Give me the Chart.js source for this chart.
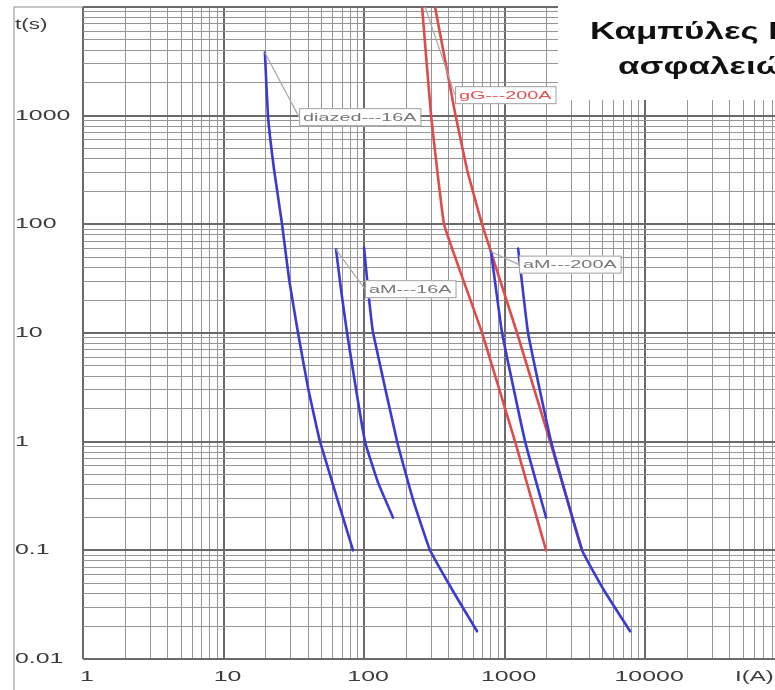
<!DOCTYPE html>
<html><head><meta charset="utf-8">
<script src="https://cdn.jsdelivr.net/npm/chart.js@4"></script>
<style>html,body{margin:0;padding:0;background:#fff}canvas{display:block}</style>
</head><body>
<canvas id="c" width="775" height="690"></canvas>
<script>
// ---- data (current I in A, time t in s) ----
const diazed16_I = [19.7, 20.7, 22.9, 26.1, 29.3, 33.9, 39.9, 48.6, 83.5];
const diazed16_t = [3800, 1000, 318, 100, 31, 10, 3.15, 1, 0.1];

const aM16a_I = [63.2, 68.6, 75.7, 101.6, 125.8, 160.8];
const aM16a_t = [58.5, 25, 10, 1, 0.42, 0.2];

const aM16b_I = [100, 106.8, 116, 172, 223, 295, 430, 637];
const aM16b_t = [61, 25, 10, 1, 0.293, 0.1, 0.042, 0.018];

const aM200a_I = [801, 960, 1400, 1974];
const aM200a_t = [56, 10, 1, 0.2];

const aM200b_I = [1248, 1469, 2143, 3562, 5108, 7820];
const aM200b_t = [60, 10, 1, 0.1, 0.0427, 0.018];

const gG200a_I = [258.7, 300, 371, 507, 692, 1188, 1974];
const gG200a_t = [10000, 1000, 100, 31, 10, 1, 0.1];

const gG200b_I = [320, 444, 541, 692, 1227, 2109, 3562];
const gG200b_t = [10000, 1066, 318, 100, 10, 1, 0.1];

// callouts (labels with leader lines), in data coordinates
const calloutText  = ['diazed---16A', 'gG---200A', 'aM---16A', 'aM---200A'];
const calloutFromI = [19.7, 272, 63.2, 800];
const calloutFromT = [3800, 10000, 58.5, 56];
const calloutToI   = [34.5, 444, 101.6, 1268];
const calloutToT   = [969, 1544, 25.3, 42.6];

// axes
const xTickLabels = ['1', '10', '100', '1000', '10000'];
const yTickLabels = ['0.01', '0.1', '1', '10', '100', '1000'];
const xAxisTitle = 'I(A)';
const yAxisTitle = 't(s)';
const xMin = 1, xMax = 84000, yMin = 0.01, yMax = 10000;
const titleLines = ['Καμπύλες Ι-t', 'ασφαλειών'];

// ---- helpers ----
const pts = (I, t) => I.map((v, i) => ({x: v, y: t[i]}));
function gridValues(min, max) {
  const out = [];
  for (let e = Math.floor(Math.log10(min)); e <= Math.ceil(Math.log10(max)); e++) {
    for (let m = 1; m <= 9; m++) {
      const v = parseFloat((m * Math.pow(10, e)).toPrecision(6));
      if (v >= min * 0.9999 && v <= max * 1.0001) out.push(v);
    }
  }
  return out;
}
const isDecade = v => Math.abs(Math.log10(v) - Math.round(Math.log10(v))) < 1e-6;

const BLUE = '#3a3ad4', RED = '#e24a4a', LEAD = '#a8a8a8';
const curve = (data, color) => ({data, borderColor: color, borderWidth: 2.6, pointRadius: 0,
  tension: 0.1, fill: false, borderJoinStyle: 'round', borderCapStyle: 'round'});
const lead = i => ({data: [{x: calloutFromI[i], y: calloutFromT[i]}, {x: calloutToI[i], y: calloutToT[i]}],
  borderColor: LEAD, borderWidth: 1.2, pointRadius: 0, tension: 0, fill: false});

function stretchText(ctx, text, x, y, sx, align) {
  const w = ctx.measureText(text).width * sx;
  let left = x;
  if (align === 'center') left = x - w / 2; else if (align === 'right') left = x - w;
  ctx.save();
  ctx.translate(left, y); ctx.scale(sx, 1);
  ctx.textAlign = 'left';
  ctx.fillText(text, 0, 0);
  ctx.restore();
  return w;
}

const decor = {
  id: 'decor',
  beforeDraw(chart) {
    const ctx = chart.ctx;
    ctx.save();
    ctx.fillStyle = '#fff';
    ctx.fillRect(0, 0, chart.width, chart.height);
    ctx.strokeStyle = '#b4b4b4'; ctx.lineWidth = 1.5;
    ctx.beginPath();
    ctx.moveTo(83, chart.chartArea.top); ctx.lineTo(14, chart.chartArea.top); ctx.lineTo(14, chart.height);
    ctx.stroke();
    ctx.restore();
  },
  afterDatasetsDraw(chart) {
    const ctx = chart.ctx, xs = chart.scales.x, ys = chart.scales.y;
    ctx.save();
    ctx.font = '11px "Liberation Sans", Arial, sans-serif';
    ctx.textBaseline = 'middle';
    calloutText.forEach((txt, i) => {
      const px = xs.getPixelForValue(calloutToI[i]);
      const py = ys.getPixelForValue(calloutToT[i]);
      const sx = 1.8;
      const w = ctx.measureText(txt).width * sx + 8;
      ctx.fillStyle = '#fff';
      ctx.fillRect(px, py - 9, w, 18);
      ctx.strokeStyle = '#a0a0a0'; ctx.lineWidth = 1;
      ctx.strokeRect(px + 0.5, py - 8.5, w, 17);
      ctx.fillStyle = txt.startsWith('gG') ? '#e25050' : '#777';
      stretchText(ctx, txt, px + 4, py + 0.5, sx, 'left');
    });
    ctx.restore();
  },
  afterDraw(chart) {
    const ctx = chart.ctx, xs = chart.scales.x, ys = chart.scales.y;
    ctx.save();
    ctx.fillStyle = '#3c3c3c';
    ctx.font = '15px "Liberation Sans", Arial, sans-serif';
    ctx.textBaseline = 'middle';
    const sx = 1.66;
    yTickLabels.forEach(l => stretchText(ctx, l, 15, ys.getPixelForValue(parseFloat(l)), sx, 'left'));
    xTickLabels.forEach(l => stretchText(ctx, l, xs.getPixelForValue(parseFloat(l)) + 4, 677, sx, 'center'));
    stretchText(ctx, yAxisTitle, 15, 25, 1.5, 'left');
    stretchText(ctx, xAxisTitle, 735, 677, 1.6, 'left');
    // title box
    ctx.fillStyle = '#fff';
    ctx.fillRect(558, 0, chart.width - 558, 100);
    ctx.fillStyle = '#111';
    ctx.font = 'bold 23px "Liberation Sans", Arial, sans-serif';
    ctx.textBaseline = 'alphabetic';
    stretchText(ctx, titleLines[0], 590, 39, 1.52, 'left');
    stretchText(ctx, titleLines[1], 618, 74, 1.52, 'left');
    ctx.restore();
  }
};

const gridOpts = {
  color: c => isDecade(c.tick.value) ? '#6a6a6a' : '#959595',
  lineWidth: c => isDecade(c.tick.value) ? 2 : 1,
  drawTicks: false
};

new Chart(document.getElementById('c'), {
  type: 'line',
  data: {
    datasets: [
      lead(0), lead(1), lead(2), lead(3),
      curve(pts(diazed16_I, diazed16_t), BLUE),
      curve(pts(aM16a_I, aM16a_t), BLUE),
      curve(pts(aM16b_I, aM16b_t), BLUE),
      curve(pts(aM200a_I, aM200a_t), BLUE),
      curve(pts(aM200b_I, aM200b_t), BLUE),
      curve(pts(gG200a_I, gG200a_t), RED),
      curve(pts(gG200b_I, gG200b_t), RED)
    ]
  },
  options: {
    responsive: false,
    animation: false,
    layout: {padding: {top: 7, left: 0, right: 0, bottom: 0}},
    plugins: {legend: {display: false}, tooltip: {enabled: false}, title: {display: false}},
    scales: {
      x: {
        type: 'logarithmic', min: xMin, max: xMax, position: 'bottom',
        ticks: {display: false, autoSkip: false},
        grid: gridOpts, border: {display: false},
        afterBuildTicks: s => { s.ticks = gridValues(xMin, xMax).map(v => ({value: v})); },
        afterFit: s => { s.height = 31; }
      },
      y: {
        type: 'logarithmic', min: yMin, max: yMax, position: 'left',
        ticks: {display: false, autoSkip: false},
        grid: gridOpts, border: {display: false},
        afterBuildTicks: s => { s.ticks = gridValues(yMin, yMax).map(v => ({value: v})); },
        afterFit: s => { s.width = 83; }
      }
    }
  },
  plugins: [decor]
});
</script>
</body></html>
